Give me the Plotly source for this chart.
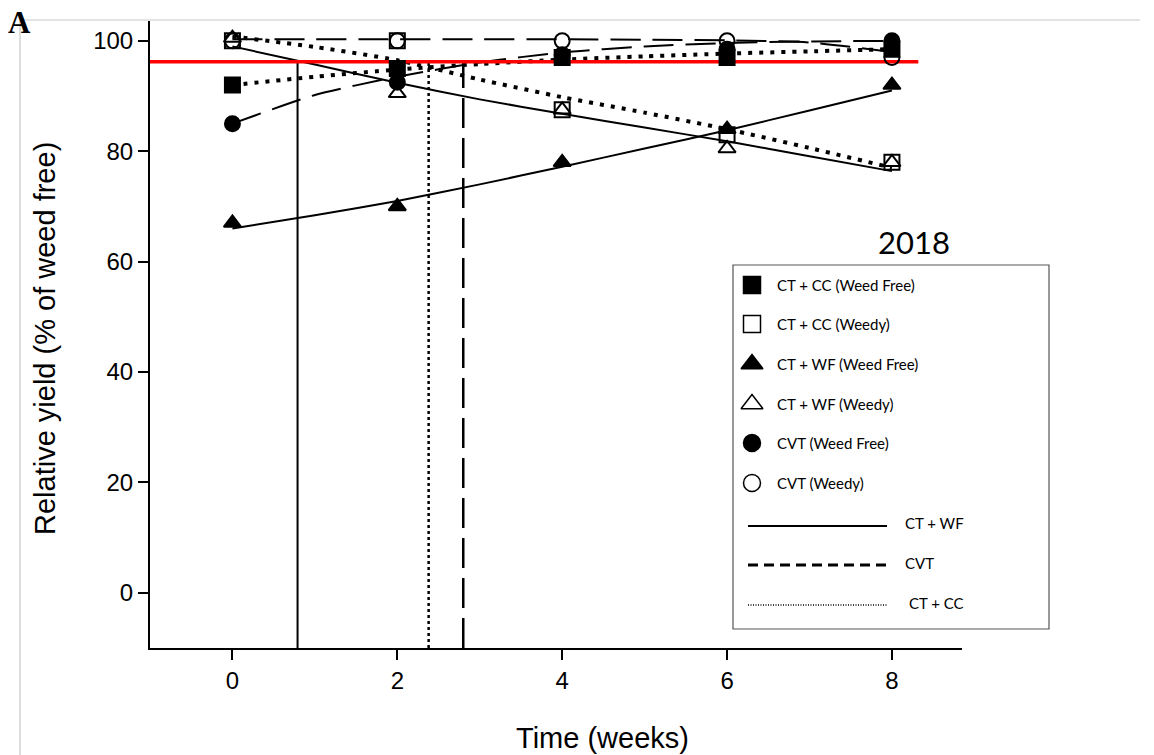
import plotly.graph_objects as go

# ---------------- data ----------------
weeks = [0, 2, 4, 6, 8]
ctcc_wf = [92, 95, 97, 97, 98.5]
ctcc_weedy = [100, 100, 87.5, 83, 78]
ctwf_wf = [67, 70, 78, 84, 92]
ctwf_weedy = [100.5, 90.5, 87.5, 80.5, 78]
cvt_wf = [85, 92.5, 97.5, 98.5, 100]
cvt_weedy = [100, 100, 100, 100, 97]

fit_weeks = [0, 1, 2, 3, 4, 5, 6, 7, 8]
fit_ctwf_wf = [66, 68.4, 71, 74, 77.2, 80.5, 83.8, 87.4, 91]
fit_ctwf_weedy = [99, 95.7, 92.4, 89.4, 86.8, 84.3, 81.8, 79.1, 76.4]
fit_cvt_wf = [85, 90.2, 93.5, 96.1, 97.9, 99.0, 99.6, 99.9, 100]
fit_cvt_weedy = [100.3, 100.3, 100.3, 100.3, 100.3, 100.2, 100.1, 99.7, 98]
fit_ctcc_wf = [92, 93.5, 94.8, 95.8, 96.6, 97.2, 97.7, 98.1, 98.5]
fit_ctcc_weedy = [100.8, 98.9, 96.5, 93, 89.8, 87, 84, 80.6, 77]

threshold = 96.2
threshold_x = [-1, 8.32]
crit_ctwf = 0.79
crit_ctcc = 2.38
crit_cvt = 2.8
y_bottom = -10

x_ticks = [0, 2, 4, 6, 8]
y_ticks = [0, 20, 40, 60, 80, 100]

legend_markers = ["CT + CC (Weed Free)", "CT + CC (Weedy)", "CT + WF (Weed Free)",
                  "CT + WF (Weedy)", "CVT (Weed Free)", "CVT (Weedy)"]
legend_lines = ["CT + WF", "CVT", "CT + CC"]

# ---------------- layout helpers (pixels -> paper) ----------------
W, H = 1154, 755
ML, MR, MT, MB = 150, 192, 21, 107
PW, PH = W - ML - MR, H - MT - MB


def px(x):
    return (x - ML) / PW


def py(y):
    return (H - MB - y) / PH


BLACK = "black"
DASH_CURVE = "30px,12px"
DOT_CURVE = "4px,7px"

fig = go.Figure()

# fitted curves
curves = [
    (fit_ctwf_wf, "solid", 2),
    (fit_ctwf_weedy, "solid", 2),
    (fit_cvt_wf, DASH_CURVE, 2),
    (fit_cvt_weedy, DASH_CURVE, 2),
    (fit_ctcc_wf, DOT_CURVE, 4),
    (fit_ctcc_weedy, DOT_CURVE, 4),
]
for ys, dash, w in curves:
    fig.add_trace(go.Scatter(x=fit_weeks, y=ys, mode="lines",
                             line=dict(color=BLACK, width=w, dash=dash, shape="spline", smoothing=0.6),
                             showlegend=False, hoverinfo="skip"))

# critical period vertical lines
for xv, dash in [(crit_ctwf, "solid"), (crit_ctcc, "3px,3px"), (crit_cvt, "30px,10px")]:
    fig.add_trace(go.Scatter(x=[xv, xv], y=[y_bottom, threshold], mode="lines",
                             line=dict(color=BLACK, width=2.5 if dash != "solid" else 2, dash=dash),
                             showlegend=False, hoverinfo="skip"))

# threshold line
fig.add_trace(go.Scatter(x=threshold_x, y=[threshold, threshold], mode="lines",
                         line=dict(color="#ff0000", width=3.5), showlegend=False, hoverinfo="skip"))

# data markers
series = [
    (ctcc_wf, "square", "CT + CC (Weed Free)"),
    (ctcc_weedy, "square-open", "CT + CC (Weedy)"),
    (ctwf_wf, "triangle-up", "CT + WF (Weed Free)"),
    (ctwf_weedy, "triangle-up-open", "CT + WF (Weedy)"),
    (cvt_wf, "circle", "CVT (Weed Free)"),
    (cvt_weedy, "circle-open", "CVT (Weedy)"),
]
for ys, sym, name in series:
    fig.add_trace(go.Scatter(x=weeks, y=ys, mode="markers", name=name,
                             marker=dict(symbol=sym, size=15, color=BLACK,
                                         line=dict(color=BLACK, width=2)),
                             showlegend=False, cliponaxis=False))

# ---------------- manual legend ----------------
leg_x = 752
leg_text_x = 775
leg_rows = [285, 324, 364, 404, 443, 483]
leg_syms = ["square", "square-open", "triangle-up", "triangle-up-open", "circle", "circle-open"]
leg_sizes = [17, 17, 19, 19, 17, 17]
for yrow, sym, sz in zip(leg_rows, leg_syms, leg_sizes):
    fig.add_trace(go.Scatter(x=[leg_x], y=[yrow], mode="markers", xaxis="x2", yaxis="y2",
                             marker=dict(symbol=sym, size=sz, color=BLACK,
                                         line=dict(color=BLACK, width=1.5)),
                             showlegend=False, hoverinfo="skip", cliponaxis=False))

shapes = []
# outer frame lines (light grey)
shapes.append(dict(type="line", xref="paper", yref="paper", x0=px(20), x1=px(1140), y0=py(20), y1=py(20),
                   line=dict(color="#c8c8c8", width=1.2)))
shapes.append(dict(type="line", xref="paper", yref="paper", x0=px(20), x1=px(20), y0=py(20), y1=py(755),
                   line=dict(color="#c8c8c8", width=1.2)))
# legend box
shapes.append(dict(type="rect", xref="paper", yref="paper", x0=px(733), x1=px(1049), y0=py(265), y1=py(629),
                   line=dict(color="#555555", width=1.2), fillcolor="rgba(0,0,0,0)"))
# legend line samples
for yl, dash, w in [(526, "solid", 2), (565, "10px,6px", 3), (605, "1px,1.5px", 1.5)]:
    shapes.append(dict(type="line", xref="paper", yref="paper", x0=px(748), x1=px(887), y0=py(yl), y1=py(yl),
                       line=dict(color=BLACK, width=w, dash=dash)))

annotations = []
LEG_FONT = dict(family="Lato, Carlito, sans-serif", size=15, color=BLACK)
for yrow, txt in zip(leg_rows, legend_markers):
    annotations.append(dict(x=px(leg_text_x), y=py(yrow), xref="paper", yref="paper", text=txt,
                            showarrow=False, xanchor="left", yanchor="middle", font=LEG_FONT))
for (xt, yt), txt in zip([(903, 523), (903, 563), (907, 603)], legend_lines):
    annotations.append(dict(x=px(xt), y=py(yt), xref="paper", yref="paper", text=txt,
                            showarrow=False, xanchor="left", yanchor="middle", font=LEG_FONT))
# year label
annotations.append(dict(x=px(914), y=py(242), xref="paper", yref="paper", text="2018", showarrow=False,
                        xanchor="center", yanchor="middle",
                        font=dict(family="Lato, sans-serif", size=31, color=BLACK)))
# panel letter
annotations.append(dict(x=px(19), y=py(22), xref="paper", yref="paper", text="<b>A</b>", showarrow=False,
                        xanchor="center", yanchor="middle",
                        font=dict(family="Liberation Serif, Times New Roman, serif", size=31, color=BLACK)))
# axis titles
annotations.append(dict(x=px(602), y=py(738), xref="paper", yref="paper", text="Time (weeks)", showarrow=False,
                        xanchor="center", yanchor="middle",
                        font=dict(family="Liberation Sans, Arial, sans-serif", size=29, color=BLACK)))
annotations.append(dict(x=px(45), y=py(339), xref="paper", yref="paper", text="Relative yield (% of weed free)",
                        showarrow=False, textangle=-90, xanchor="center", yanchor="middle",
                        font=dict(family="Liberation Sans, Arial, sans-serif", size=29, color=BLACK)))

axis_common = dict(showline=True, linecolor=BLACK, linewidth=2, ticks="outside", ticklen=10, tickwidth=2,
                   tickcolor=BLACK, showgrid=False, zeroline=False,
                   tickfont=dict(family="Liberation Sans, Arial, sans-serif", size=24, color=BLACK))

fig.update_layout(
    width=W, height=H,
    margin=dict(l=ML, r=MR, t=MT, b=MB),
    plot_bgcolor="white", paper_bgcolor="white",
    xaxis=dict(range=[-1, 8.85], tickvals=x_ticks, **axis_common),
    yaxis=dict(range=[-10, 103.6], tickvals=y_ticks, **axis_common),
    xaxis2=dict(range=[ML, W - MR], overlaying="x", anchor="y2", visible=False),
    yaxis2=dict(range=[H - MB, MT], overlaying="y", anchor="x2", visible=False),
    shapes=shapes,
    annotations=annotations,
    showlegend=False,
)

fig.write_html("out.html")
